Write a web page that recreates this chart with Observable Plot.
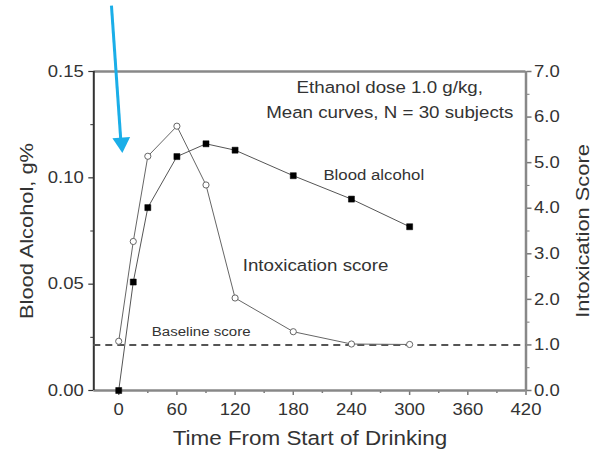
<!DOCTYPE html>
<html><head><meta charset="utf-8">
<script src="https://cdn.jsdelivr.net/npm/d3@7"></script>
<script src="https://cdn.jsdelivr.net/npm/@observablehq/plot@0.6"></script>
<style>body{margin:0;background:#fff;} svg{font-family:"Liberation Sans",Arial,sans-serif;}</style>
</head><body><div id="chart"></div>
<script>
const alcTime = [0, 15, 30, 60, 90, 120, 180, 240, 300];
const alcValue = [0.000, 0.051, 0.086, 0.110, 0.116, 0.113, 0.101, 0.090, 0.077];
const scoreTime = [0, 15, 30, 60, 90, 120, 180, 240, 300];
const scoreValue = [1.08, 3.27, 5.14, 5.80, 4.51, 2.03, 1.29, 1.02, 1.01];
const baselineScore = 1.0;
const xTicks = [0, 60, 120, 180, 240, 300, 360, 420];
const xMinor = [30, 90, 150, 210, 270, 330, 390];
const leftTicks = [0, 0.05, 0.10, 0.15];
const leftMinor = [0.025, 0.075, 0.125];
const rightTicks = [0, 1, 2, 3, 4, 5, 6, 7];
const rightMinor = [0.5, 1.5, 2.5, 3.5, 4.5, 5.5, 6.5];
const noteText = ["Ethanol dose 1.0 g/kg,", "Mean curves, N = 30 subjects", "Blood alcohol", "Intoxication score", "Baseline score"];
const noteTime = [279.5, 279.5, 263, 203, 85];
const noteValue = [0.1425, 0.1305, 0.1010, 0.0585, 0.0275];
const noteSize = [16.3, 16.3, 14.6, 16.3, 13.1];
const arrowShaft = [{t1: -7.5, v1: 0.181, t2: 2.1, v2: 0.118}];
const arrowHead = [{t: 3.0, v: 0.1165}];

const S = 0.15 / 7; // score -> blood alcohol units
const alc = alcTime.map((t, i) => ({t, v: alcValue[i]}));
const score = scoreTime.map((t, i) => ({t, v: scoreValue[i] * S}));
const notes = noteText.map((text, i) => ({text, t: noteTime[i], v: noteValue[i], size: noteSize[i]}));
const xMin = -25.7, xMax = 420, yMax = 0.15;

const plot = Plot.plot({
  width: 596, height: 456,
  marginLeft: 93.3, marginRight: 70.5, marginTop: 71, marginBottom: 66,
  style: {fontSize: "16px", fontFamily: "Liberation Sans, Arial, sans-serif", color: "#333", background: "#fff"},
  x: {domain: [xMin, xMax]},
  y: {domain: [0, yMax]},
  marks: [
    // axes
    Plot.axisX({ticks: xTicks, tickSize: 5, tickPadding: 8, stroke: "#777", strokeWidth: 1.5, fill: "#333", label: null, fontSize: 16.1}),
    Plot.axisX({ticks: xMinor, tickSize: 3, text: null, stroke: "#777", strokeWidth: 1.5, label: null}),
    Plot.axisY({ticks: leftTicks, tickSize: 5, tickPadding: 5, tickFormat: ".2f", stroke: "#333", strokeWidth: 1.2, fill: "#333", label: null, fontSize: 16.1}),
    Plot.axisY({ticks: leftMinor, tickSize: 3, text: null, stroke: "#333", label: null}),
    Plot.axisY({anchor: "right", ticks: rightTicks.map(d => d * S), tickSize: 5, tickPadding: 3,
      tickFormat: d => (d / S).toFixed(1), stroke: "#777", strokeWidth: 1.5, fill: "#333", label: null, fontSize: 16.1}),
    Plot.axisY({anchor: "right", ticks: rightMinor.map(d => d * S), tickSize: 3, text: null, stroke: "#777", label: null}),
    // frame
    Plot.ruleY([yMax], {x1: xMin, x2: xMax, stroke: "#888", strokeWidth: 2.5}),
    Plot.ruleY([0], {x1: xMin, x2: xMax, stroke: "#888", strokeWidth: 2.5}),
    Plot.ruleX([xMax], {y1: 0, y2: yMax, stroke: "#888", strokeWidth: 2.5}),
    Plot.ruleX([xMin], {y1: 0, y2: yMax, stroke: "#333", strokeWidth: 2}),
    // baseline
    Plot.ruleY([baselineScore * S], {x1: xMin, x2: xMax, stroke: "#555", strokeWidth: 2, strokeDasharray: "7,5"}),
    // series
    Plot.line(alc, {x: "t", y: "v", stroke: "#555", strokeWidth: 1}),
    Plot.line(score, {x: "t", y: "v", stroke: "#666", strokeWidth: 1}),
    Plot.dot(alc, {x: "t", y: "v", symbol: "square", r: 3.4, fill: "#000", stroke: "#000", strokeWidth: 0.5}),
    Plot.dot(score, {x: "t", y: "v", symbol: "circle", r: 3.1, fill: "#fff", stroke: "#666", strokeWidth: 1}),
    // annotations
    Plot.text(notes, {x: "t", y: "v", text: "text", fontSize: "size", fill: "#333", textAnchor: "middle"}),
    Plot.link(arrowShaft, {x1: "t1", y1: "v1", x2: "t2", y2: "v2", stroke: "#1aaee8", strokeWidth: 3}),
    Plot.dot(arrowHead, {x: "t", y: "v", symbol: "triangle", r: 6.6, fill: "#1aaee8", stroke: "none", rotate: 176}),
    // axis titles
    Plot.text(["Time From Start of Drinking"], {frameAnchor: "bottom", dy: 54, fontSize: 19.5, fill: "#333", textAnchor: "middle"}),
    Plot.text(["Blood Alcohol, g%"], {frameAnchor: "left", dx: -67, rotate: -90, fontSize: 19, fill: "#333", textAnchor: "middle"}),
    Plot.text(["Intoxication Score"], {frameAnchor: "right", dx: 57, rotate: -90, fontSize: 19, fill: "#333", textAnchor: "middle"})
  ]
});
// the reference's lettering is slightly wide: stretch text horizontally around its anchor
d3.select(plot).selectAll("text").each(function () {
  const t = this.getAttribute("transform");
  if (t) this.setAttribute("transform", t + " scale(1.15,1)");
  else {
    const x = this.getAttribute("x") || 0, y = this.getAttribute("y") || 0;
    this.removeAttribute("x"); this.removeAttribute("y");
    this.setAttribute("transform", `translate(${x},${y}) scale(1.15,1)`);
  }
});
document.getElementById("chart").append(plot);
</script></body></html>
